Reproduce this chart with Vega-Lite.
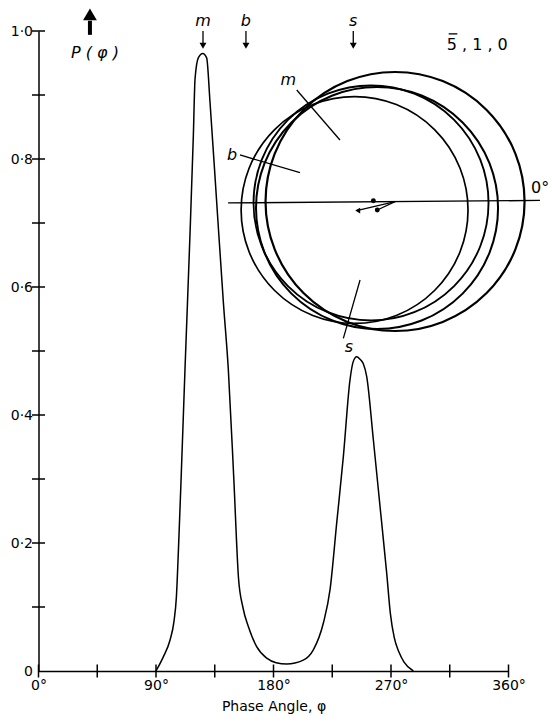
{
  "$schema": "https://vega.github.io/schema/vega-lite/v6.json",
  "width": 470,
  "height": 640,
  "autosize": {"type": "none"},
  "padding": {"left": 38.5, "top": 31, "right": 43.5, "bottom": 52},
  "background": "white",
  "config": {"view": {"stroke": null}, "font": "DejaVu Sans"},
  "datasets": {
    "curve": [
      {"phi": 90, "P": 0}, {"phi": 95.6, "P": 0.022}, {"phi": 100.7, "P": 0.048}, {"phi": 103.8, "P": 0.078},
      {"phi": 105.6, "P": 0.115}, {"phi": 107.2, "P": 0.19}, {"phi": 109.4, "P": 0.31}, {"phi": 112.2, "P": 0.471},
      {"phi": 116.0, "P": 0.68}, {"phi": 118.6, "P": 0.836}, {"phi": 119.9, "P": 0.925}, {"phi": 122.4, "P": 0.958},
      {"phi": 125.8, "P": 0.965}, {"phi": 128.8, "P": 0.958}, {"phi": 131.4, "P": 0.888}, {"phi": 136.5, "P": 0.732},
      {"phi": 141.6, "P": 0.576}, {"phi": 145.4, "P": 0.471}, {"phi": 149.6, "P": 0.3}, {"phi": 153.2, "P": 0.145},
      {"phi": 156.5, "P": 0.1}, {"phi": 161, "P": 0.068}, {"phi": 167.1, "P": 0.038}, {"phi": 174.8, "P": 0.02},
      {"phi": 182, "P": 0.013}, {"phi": 190.1, "P": 0.011}, {"phi": 202.8, "P": 0.017}, {"phi": 210.5, "P": 0.033},
      {"phi": 218.2, "P": 0.075}, {"phi": 223.3, "P": 0.127}, {"phi": 228.4, "P": 0.231}, {"phi": 233.5, "P": 0.335},
      {"phi": 238.6, "P": 0.455}, {"phi": 241, "P": 0.483}, {"phi": 243.7, "P": 0.491}, {"phi": 246.3, "P": 0.487},
      {"phi": 248.8, "P": 0.48}, {"phi": 251.4, "P": 0.46}, {"phi": 256.5, "P": 0.361}, {"phi": 261.6, "P": 0.257},
      {"phi": 266.7, "P": 0.153}, {"phi": 269.5, "P": 0.09}, {"phi": 272.5, "P": 0.052}, {"phi": 276, "P": 0.03},
      {"phi": 280, "P": 0.014}, {"phi": 287.1, "P": 0}
    ],
    "circles": [
      {"circle": "C1", "phi": 273.1, "P": 0.7336, "r": 99.2},
      {"circle": "C2", "phi": 259.3, "P": 0.7234, "r": 92.7},
      {"circle": "C3", "phi": 254.7, "P": 0.7313, "r": 90.0},
      {"circle": "C4", "phi": 242.1, "P": 0.7203, "r": 86.9}
    ],
    "segments": [
      {"phi": 145.2, "P": 0.7313, "phi2": 384.1, "P2": 0.7352},
      {"phi": 197.8, "P": 0.9078, "phi2": 230.9, "P2": 0.8297},
      {"phi": 154.3, "P": 0.8063, "phi2": 200.3, "P2": 0.7786},
      {"phi": 233.5, "P": 0.5198, "phi2": 246.3, "P2": 0.6109},
      {"phi": 243.7, "P": 0.7192, "phi2": 273.1, "P2": 0.7333},
      {"phi": 259.5, "P": 0.7203, "phi2": 273.1, "P2": 0.7333},
      {"phi": 126.0, "P": 1.0, "phi2": 126.0, "P2": 0.979},
      {"phi": 158.9, "P": 1.0, "phi2": 158.9, "P2": 0.979},
      {"phi": 241.1, "P": 1.0, "phi2": 241.1, "P2": 0.979},
      {"phi": 314.2, "P": 0.9955, "phi2": 320.8, "P2": 0.9955}
    ],
    "dots": [
      {"phi": 256.5, "P": 0.7348},
      {"phi": 259.5, "P": 0.7203}
    ],
    "arrowLeft": [{"phi": 244.5, "P": 0.7194}],
    "arrowDown": [
      {"phi": 126.0, "P": 0.977}, {"phi": 158.9, "P": 0.977}, {"phi": 241.1, "P": 0.977}
    ],
    "bigArrowShaft": [{"phi": 39.4, "P": 0.994, "phi2": 39.4, "P2": 1.016}],
    "bigArrowHead": [{"phi": 39.4, "P": 1.026}],
    "italicLabels": [
      {"phi": 126.0, "P": 1.0156, "label": "m"},
      {"phi": 158.9, "P": 1.0156, "label": "b"},
      {"phi": 241.1, "P": 1.0156, "label": "s"},
      {"phi": 191.3, "P": 0.9234, "label": "m"},
      {"phi": 148.2, "P": 0.806, "label": "b"},
      {"phi": 237.8, "P": 0.506, "label": "s"},
      {"phi": 43.3, "P": 0.965, "label": "P ( φ )"}
    ],
    "plainLabels": [
      {"phi": 312.7, "P": 0.978, "label": "5 , 1 , 0"},
      {"phi": 377.3, "P": 0.755, "label": "0°"}
    ],
    "xticks": [
      {"phi": 0}, {"phi": 45}, {"phi": 90}, {"phi": 135}, {"phi": 180}, {"phi": 225}, {"phi": 270}, {"phi": 315}, {"phi": 360}
    ],
    "yticks": [
      {"P": 0.1}, {"P": 0.2}, {"P": 0.3}, {"P": 0.4}, {"P": 0.5}, {"P": 0.6}, {"P": 0.7}, {"P": 0.8}, {"P": 0.9}, {"P": 1.0}
    ]
  },
  "layer": [
    {
      "data": {"name": "curve"},
      "mark": {"type": "line", "interpolate": "monotone", "color": "black", "strokeWidth": 1.5},
      "encoding": {
        "x": {
          "field": "phi", "type": "quantitative",
          "scale": {"domain": [0, 360], "nice": false, "zero": false},
          "axis": {
            "title": "Phase Angle, φ", "values": [0, 90, 180, 270, 360],
            "labelExpr": "datum.value + '°'", "ticks": false, "grid": false,
            "domainColor": "black", "domainWidth": 1.5, "labelFontSize": 14, "labelColor": "black",
            "labelPadding": 7, "labelFlush": false, "titleFontSize": 14, "titleFontWeight": "normal",
            "titleColor": "black", "titlePadding": 7
          }
        },
        "y": {
          "field": "P", "type": "quantitative",
          "scale": {"domain": [0, 1], "nice": false},
          "axis": {
            "title": null, "values": [0, 0.2, 0.4, 0.6, 0.8, 1],
            "labelExpr": "datum.value == 0 ? '0' : replace(format(datum.value, '.1f'), '.', '·')",
            "ticks": false, "grid": false, "domainColor": "black", "domainWidth": 1.5,
            "labelPadding": 6, "labelFontSize": 14, "labelColor": "black", "labelFlush": false
          }
        }
      }
    },
    {
      "data": {"name": "xticks"},
      "mark": {"type": "tick", "orient": "vertical", "size": 13, "thickness": 1.5, "color": "black", "opacity": 1},
      "encoding": {"x": {"field": "phi", "type": "quantitative"}, "y": {"datum": 0}}
    },
    {
      "data": {"name": "yticks"},
      "mark": {"type": "tick", "orient": "horizontal", "size": 13, "thickness": 1.5, "color": "black", "opacity": 1},
      "encoding": {"y": {"field": "P", "type": "quantitative"}, "x": {"datum": 0}}
    },
    {
      "data": {"name": "circles"},
      "mark": {"type": "point", "shape": "circle", "filled": false, "color": "black", "opacity": 1},
      "encoding": {
        "x": {"field": "phi", "type": "quantitative"},
        "y": {"field": "P", "type": "quantitative"},
        "size": {"field": "r", "type": "quantitative", "scale": {"type": "pow", "exponent": 2, "domain": [0, 100], "range": [0, 68180]}, "legend": null},
        "strokeWidth": {"field": "circle", "type": "nominal", "scale": {"domain": ["C1", "C2", "C3", "C4"], "range": [2.2, 1.7, 1.1, 1.1]}, "legend": null}
      }
    },
    {
      "data": {"name": "segments"},
      "mark": {"type": "rule", "color": "black", "strokeWidth": 1.3},
      "encoding": {
        "x": {"field": "phi", "type": "quantitative"}, "y": {"field": "P", "type": "quantitative"},
        "x2": {"field": "phi2"}, "y2": {"field": "P2"}
      }
    },
    {
      "data": {"name": "dots"},
      "mark": {"type": "point", "shape": "circle", "filled": true, "color": "black", "opacity": 1, "size": 24},
      "encoding": {"x": {"field": "phi", "type": "quantitative"}, "y": {"field": "P", "type": "quantitative"}}
    },
    {
      "data": {"name": "arrowLeft"},
      "mark": {"type": "point", "shape": "triangle-left", "filled": true, "color": "black", "opacity": 1, "size": 32},
      "encoding": {"x": {"field": "phi", "type": "quantitative"}, "y": {"field": "P", "type": "quantitative"}}
    },
    {
      "data": {"name": "arrowDown"},
      "mark": {"type": "point", "shape": "triangle-down", "filled": true, "color": "black", "opacity": 1, "size": 48},
      "encoding": {"x": {"field": "phi", "type": "quantitative"}, "y": {"field": "P", "type": "quantitative"}}
    },
    {
      "data": {"name": "bigArrowShaft"},
      "mark": {"type": "rule", "color": "black", "strokeWidth": 4},
      "encoding": {
        "x": {"field": "phi", "type": "quantitative"}, "y": {"field": "P", "type": "quantitative"},
        "x2": {"field": "phi2"}, "y2": {"field": "P2"}
      }
    },
    {
      "data": {"name": "bigArrowHead"},
      "mark": {"type": "point", "shape": "triangle-up", "filled": true, "color": "black", "opacity": 1, "size": 190},
      "encoding": {"x": {"field": "phi", "type": "quantitative"}, "y": {"field": "P", "type": "quantitative"}}
    },
    {
      "data": {"name": "italicLabels"},
      "mark": {"type": "text", "font": "DejaVu Sans", "fontStyle": "italic", "fontSize": 16, "color": "black", "align": "center", "baseline": "middle"},
      "encoding": {"x": {"field": "phi", "type": "quantitative"}, "y": {"field": "P", "type": "quantitative"}, "text": {"field": "label"}}
    },
    {
      "data": {"name": "plainLabels"},
      "mark": {"type": "text", "font": "DejaVu Sans", "fontSize": 16, "color": "black", "align": "left", "baseline": "middle"},
      "encoding": {"x": {"field": "phi", "type": "quantitative"}, "y": {"field": "P", "type": "quantitative"}, "text": {"field": "label"}}
    }
  ]
}
